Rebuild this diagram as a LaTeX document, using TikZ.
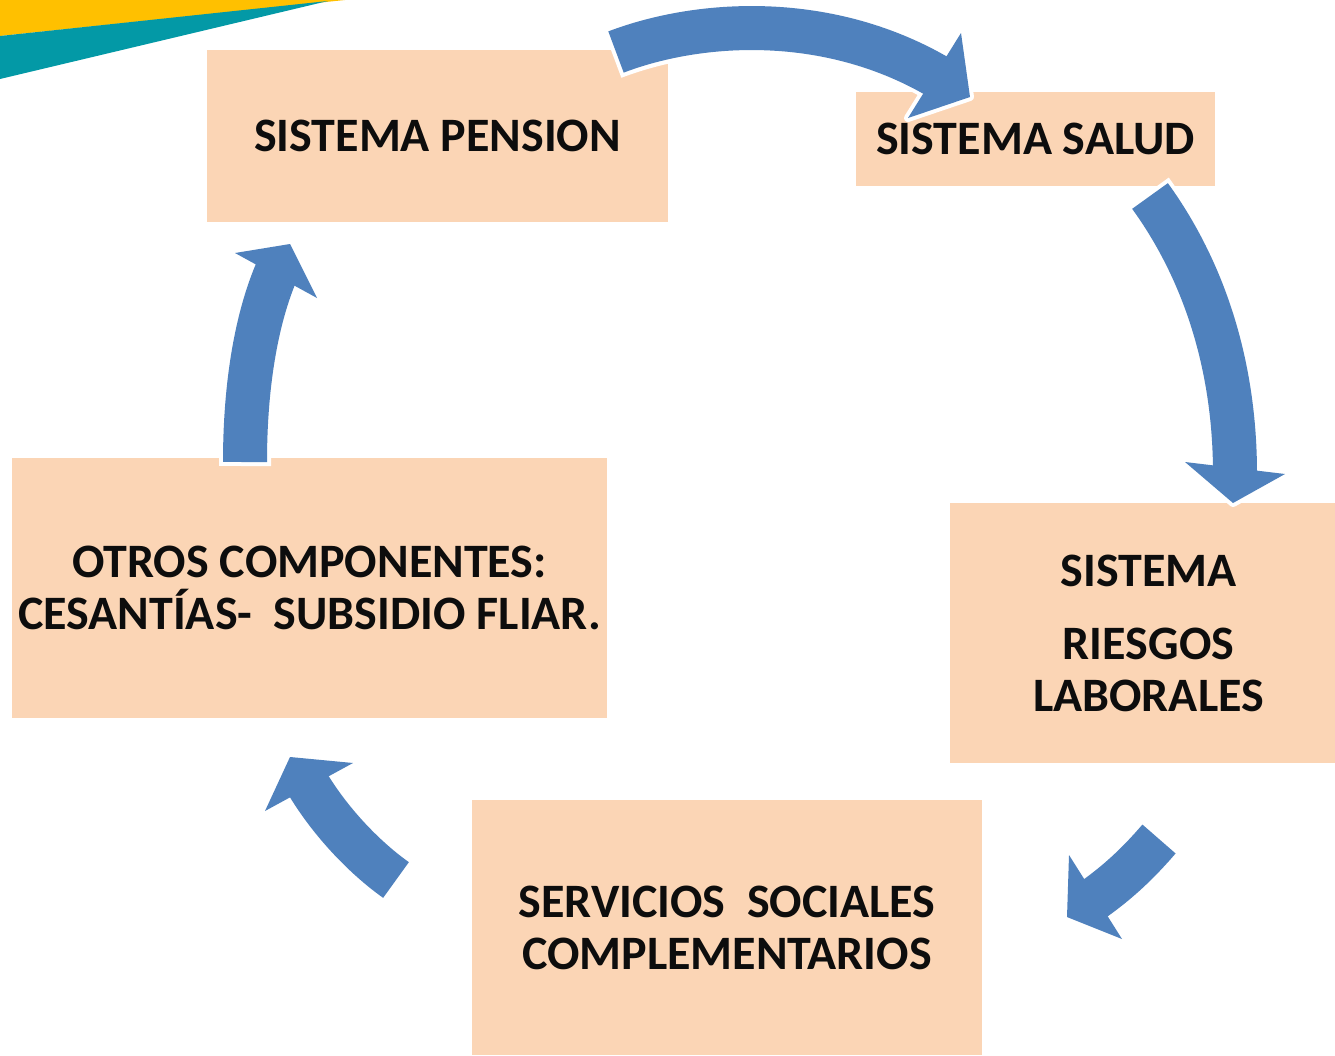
\documentclass[tikz,border=0pt]{standalone}
\usepackage{fontspec}
\setmainfont{Carlito}
\usepackage{xcolor}
\usepackage{tikz}
\usetikzlibrary{arrows,shapes}

\definecolor{boxpeach}{HTML}{FBD5B5}
\definecolor{arrowblue}{HTML}{4F81BD}
\definecolor{stripeyellow}{HTML}{FFC000}
\definecolor{stripeteal}{HTML}{0399A6}

\newcommand{\bluearrow}[7]{%
  \draw[white, line width=52pt, shorten <=-4pt, shorten >=-2pt] #1 .. controls #2 and #3 .. #4;
  \filldraw[white, line width=8pt, line join=round] #5 -- #6 -- #7 -- cycle;
  \draw[arrowblue, line width=44pt, shorten >=-8pt] #1 .. controls #2 and #3 .. #4;
  \fill[arrowblue] #5 -- #6 -- #7 -- cycle;
}

\begin{document}
\begin{tikzpicture}[x=1pt, y=-1pt,
    box/.style={rectangle, fill=boxpeach, inner sep=0pt, align=center,
                font=\fontsize{48}{52}\selectfont\bfseries, text=black!95}]
                        \useasboundingbox (0,0) rectangle (1335,1055);
                        \fill[stripeyellow] (0,0) -- (345,0) -- (0,36) -- cycle;
                        \fill[stripeteal] (0,36) -- (328,1) -- (0,79) -- cycle;
                        \node[box, minimum width=461pt, minimum height=172pt] (pension) at (437.5,136) {SISTEMA PENSION};
                        \node[box, minimum width=359pt, minimum height=94pt] (salud) at (1035.5,139) {SISTEMA SALUD};
                        \node[box, minimum width=385pt, minimum height=260pt] (riesgos) at (1142.5,633) {\hspace*{12pt}SISTEMA\\[21pt] \hspace*{12pt}RIESGOS\\ \hspace*{12pt}LABORALES};
                        \node[box, minimum width=510pt, minimum height=255pt] (servicios) at (727,927.5) {SERVICIOS\ \ SOCIALES\\ COMPLEMENTARIOS};
                        \node[box, minimum width=595pt, minimum height=260pt] (otros) at (309.5,588) {OTROS COMPONENTES:\\ CESANTÍAS-\ \ SUBSIDIO FLIAR.};
                        \bluearrow{(616,52)}{(700,20)}{(830,12)}{(935,75)}{(961,33)}{(970,97)}{(908,118)}
                        \bluearrow{(1150,196)}{(1195,258)}{(1235,350)}{(1235,466)}{(1185,462)}{(1233,503)}{(1285,474)}
                        \bluearrow{(1159,839)}{(1140,861)}{(1120,881)}{(1097,897)}{(1069,855)}{(1067,917)}{(1122,939)}
                        \bluearrow{(396,880)}{(365,858)}{(330,822)}{(310,788)}{(353,763)}{(290,757)}{(265,811)}
                        \bluearrow{(245,462)}{(245,390)}{(255,320)}{(275,275)}{(235,253)}{(290,244)}{(317,298)}
                    \end{tikzpicture}
\end{document}
